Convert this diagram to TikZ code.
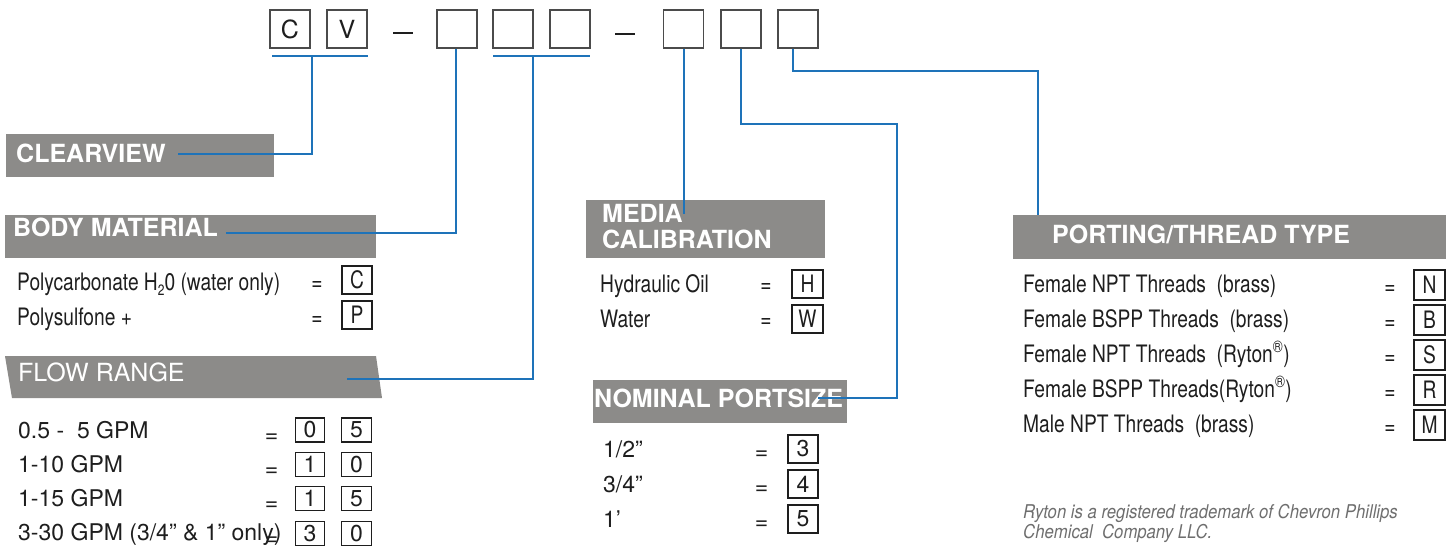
\documentclass[tikz,border=0pt]{standalone}
\usepackage{fontspec}
\setmainfont{TeX Gyre Heros}
\newfontfamily\condfont[FakeStretch=0.8]{TeX Gyre Heros}
\newfontfamily\footfont[FakeStretch=0.88]{TeX Gyre Heros}
\definecolor{hdrgray}{RGB}{140,139,137}
\definecolor{lnblue}{RGB}{30,115,185}
\definecolor{boxline}{RGB}{75,75,75}
\definecolor{txt}{RGB}{30,30,30}
\definecolor{notegray}{RGB}{110,110,110}
\begin{document}
\begin{tikzpicture}[x=1pt,y=-1pt,
  codebox/.style={draw=boxline, line width=1.4pt, minimum width=40pt, minimum height=38pt, inner sep=0pt, font=\fontsize{25}{25}\selectfont, text=txt},
  selbox/.style={draw=txt, line width=1.1pt, minimum width=30pt, minimum height=28pt, inner sep=0pt, font=\condfont\fontsize{24}{24}\selectfont, text=txt},
  flowbox/.style={draw=txt, line width=1.1pt, minimum width=30pt, minimum height=24pt, inner sep=0pt, font=\fontsize{23}{23}\selectfont, text=txt},
  hdr/.style={fill=hdrgray, inner sep=0pt, anchor=north west},
  hdrtext/.style={text=white, font=\bfseries\fontsize{25}{28}\selectfont, anchor=base west, inner sep=0pt},
  rowtext/.style={font=\condfont\fontsize{24}{24}\selectfont, text=txt, anchor=base west, inner sep=0pt},
  eqtext/.style={font=\condfont\fontsize{24}{24}\selectfont, text=txt, anchor=base, inner sep=0pt},
  flowtext/.style={font=\fontsize{23}{23}\selectfont, text=txt, anchor=base west, inner sep=0pt},
  floweq/.style={font=\fontsize{23}{23}\selectfont, text=txt, anchor=base, inner sep=0pt},
  link/.style={draw=lnblue, line width=2.7pt},
  dashline/.style={draw=txt, line width=1.8pt},
]
\useasboundingbox (0,0) rectangle (1456,551);

% ---- top code boxes
\node[codebox] (bc) at (290,29) {C};
\node[codebox] (bv) at (347,29) {V};
\node[codebox] (b3) at (457,29) {};
\node[codebox] (b4) at (513,29) {};
\node[codebox] (b5) at (570,29) {};
\node[codebox] (b6) at (683.5,29) {};
\node[codebox] (b7) at (741,29) {};
\node[codebox] (b8) at (798,29) {};
\coordinate (d1a) at (393,33); \coordinate (d1b) at (413,33);
\coordinate (d2a) at (615,34); \coordinate (d2b) at (635,34);
\draw[dashline] (d1a) -- (d1b);
\draw[dashline] (d2a) -- (d2b);

% ---- gray headers
\node[hdr, minimum width=268pt, minimum height=43pt] (hclear) at (6,134) {};
\node[hdr, minimum width=371pt, minimum height=43pt] (hbody) at (5,215) {};
\node[hdr, minimum width=239pt, minimum height=58pt] (hmedia) at (586,200) {};
\node[hdr, minimum width=254pt, minimum height=43pt] (hnom) at (593,380) {};
\node[hdr, minimum width=433pt, minimum height=44pt] (hport) at (1013,215) {};
\coordinate (fr1) at (5,356); \coordinate (fr2) at (376,356);
\coordinate (fr3) at (382,398); \coordinate (fr4) at (12,398);
\fill[hdrgray] (fr1) -- (fr2) -- (fr3) -- (fr4) -- cycle;

\node[hdrtext] (tclear) at (16,162) {CLEARVIEW};
\node[hdrtext] (tbody) at (13,236) {BODY MATERIAL};
\node[hdrtext, font=\fontsize{25}{28}\selectfont] (tflow) at (18,381) {FLOW RANGE};
\node[hdrtext] (tmedia1) at (602,222) {MEDIA};
\node[hdrtext] (tmedia2) at (602,248) {CALIBRATION};
\node[hdrtext] (tnom) at (594,407) {NOMINAL PORTSIZE};
\node[hdrtext] (tport) at (1052,243) {PORTING/THREAD TYPE};

% ---- body material rows
\node[rowtext] (bm1) at (17,290) {Polycarbonate H\raisebox{-0.22em}{\fontsize{15}{15}\selectfont 2}0 (water only)};
\node[eqtext] (bme1) at (317,290) {=};
\node[selbox] (bmc) at (357,280) {C};
\node[rowtext] (bm2) at (17,325) {Polysulfone +};
\node[eqtext] (bme2) at (317,325) {=};
\node[selbox] (bmp) at (357,315) {P};

% ---- flow range rows
\node[flowtext] (fl1) at (18,438) {0.5 -\ \ 5 GPM};
\node[flowtext] (fl2) at (18,472) {1-10 GPM};
\node[flowtext] (fl3) at (18,506) {1-15 GPM};
\node[flowtext] (fl4) at (18,540) {3-30 GPM (3/4” \& 1” only)};
\node[floweq] (fle1) at (271.5,442) {=};
\node[floweq] (fle2) at (271.5,476) {=};
\node[floweq] (fle3) at (271.5,510) {=};
\node[floweq] (fle4) at (271.5,545) {=};
\node[flowbox, minimum width=29pt] (f1a) at (310,430) {0};
\node[flowbox] (f1b) at (356.5,430) {5};
\node[flowbox, minimum width=29pt] (f2a) at (310,464.5) {1};
\node[flowbox] (f2b) at (356.5,464.5) {0};
\node[flowbox, minimum width=29pt] (f3a) at (310,498.5) {1};
\node[flowbox] (f3b) at (356.5,498.5) {5};
\node[flowbox, minimum width=29pt] (f4a) at (310,533.5) {3};
\node[flowbox] (f4b) at (356.5,533.5) {0};

% ---- media calibration rows
\node[rowtext] (mc1) at (600,292) {Hydraulic Oil};
\node[eqtext] (mce1) at (766,292) {=};
\node[selbox, minimum width=31pt] (mch) at (807.5,284) {H};
\node[rowtext] (mc2) at (600,327) {Water};
\node[eqtext] (mce2) at (766,327) {=};
\node[selbox, minimum width=31pt] (mcw) at (807.5,319) {W};

% ---- nominal portsize rows
\node[flowtext] (np1) at (603,457) {1/2”};
\node[flowtext] (np2) at (603,492) {3/4”};
\node[flowtext] (np3) at (603,527) {1’};
\node[floweq] (npe1) at (761.5,459) {=};
\node[floweq] (npe2) at (761.5,494) {=};
\node[floweq] (npe3) at (761.5,529) {=};
\node[selbox, font=\fontsize{23}{23}\selectfont] (np3b) at (803,449) {3};
\node[selbox, font=\fontsize{23}{23}\selectfont] (np4b) at (803,484) {4};
\node[selbox, font=\fontsize{23}{23}\selectfont] (np5b) at (803,519) {5};

% ---- porting rows
\node[rowtext] (pt1) at (1023,292) {Female NPT Threads\ \ (brass)};
\node[rowtext] (pt2) at (1023,327) {Female BSPP Threads\ \ (brass)};
\node[rowtext] (pt3) at (1023,362) {Female NPT Threads\ \ (Ryton\textsuperscript{®})};
\node[rowtext] (pt4) at (1023,397) {Female BSPP Threads(Ryton\textsuperscript{®})};
\node[rowtext] (pt5) at (1023,432) {Male NPT Threads\ \ (brass)};
\node[eqtext] (pte1) at (1390,294) {=};
\node[eqtext] (pte2) at (1390,329) {=};
\node[eqtext] (pte3) at (1390,364) {=};
\node[eqtext] (pte4) at (1390,399) {=};
\node[eqtext] (pte5) at (1390,434) {=};
\node[selbox, minimum width=31pt, minimum height=30pt] (ptn) at (1429.5,285) {N};
\node[selbox, minimum width=31pt, minimum height=30pt] (ptb) at (1429.5,320) {B};
\node[selbox, minimum width=31pt, minimum height=30pt] (pts) at (1429.5,355) {S};
\node[selbox, minimum width=31pt, minimum height=30pt] (ptr) at (1429.5,390) {R};
\node[selbox, minimum width=31pt, minimum height=30pt] (ptm) at (1429.5,425) {M};

% ---- footnote
\node[font=\footfont\itshape\fontsize{19}{19}\selectfont, text=notegray, anchor=base west, inner sep=0pt] (fn1) at (1023,518) {Ryton is a registered trademark of Chevron Phillips};
\node[font=\footfont\itshape\fontsize{19}{19}\selectfont, text=notegray, anchor=base west, inner sep=0pt] (fn2) at (1023,538) {Chemical\ \ Company LLC.};

% ---- blue connectors
\coordinate (cvL) at (272,56); \coordinate (cvR) at (368,56);
\coordinate (cvM) at (312,56); \coordinate (clrEnd) at (178,154);
\draw[link] (cvL) -- (cvR);
\draw[link] (cvM) |- (clrEnd);

\coordinate (bmEnd) at (226,233);
\draw[link] ([xshift=-1pt]b3.south) |- (bmEnd);

\coordinate (frL) at (493,56); \coordinate (frR) at (590,56);
\coordinate (frM) at (533,56); \coordinate (frEnd) at (347,379);
\draw[link] (frL) -- (frR);
\draw[link] (frM) |- (frEnd);

\coordinate (mcEnd) at (684,214);
\draw[link] (b6.south -| mcEnd) -- (mcEnd);

\coordinate (c7a) at (897,124); \coordinate (npEnd) at (818,398);
\draw[link] (b7.south) |- (c7a) |- (npEnd);

\coordinate (c8a) at (1038,71); \coordinate (ptEnd) at (1038,215);
\draw[link] ([xshift=-5pt]b8.south) |- (c8a) -- (ptEnd);
\end{tikzpicture}
\end{document}
